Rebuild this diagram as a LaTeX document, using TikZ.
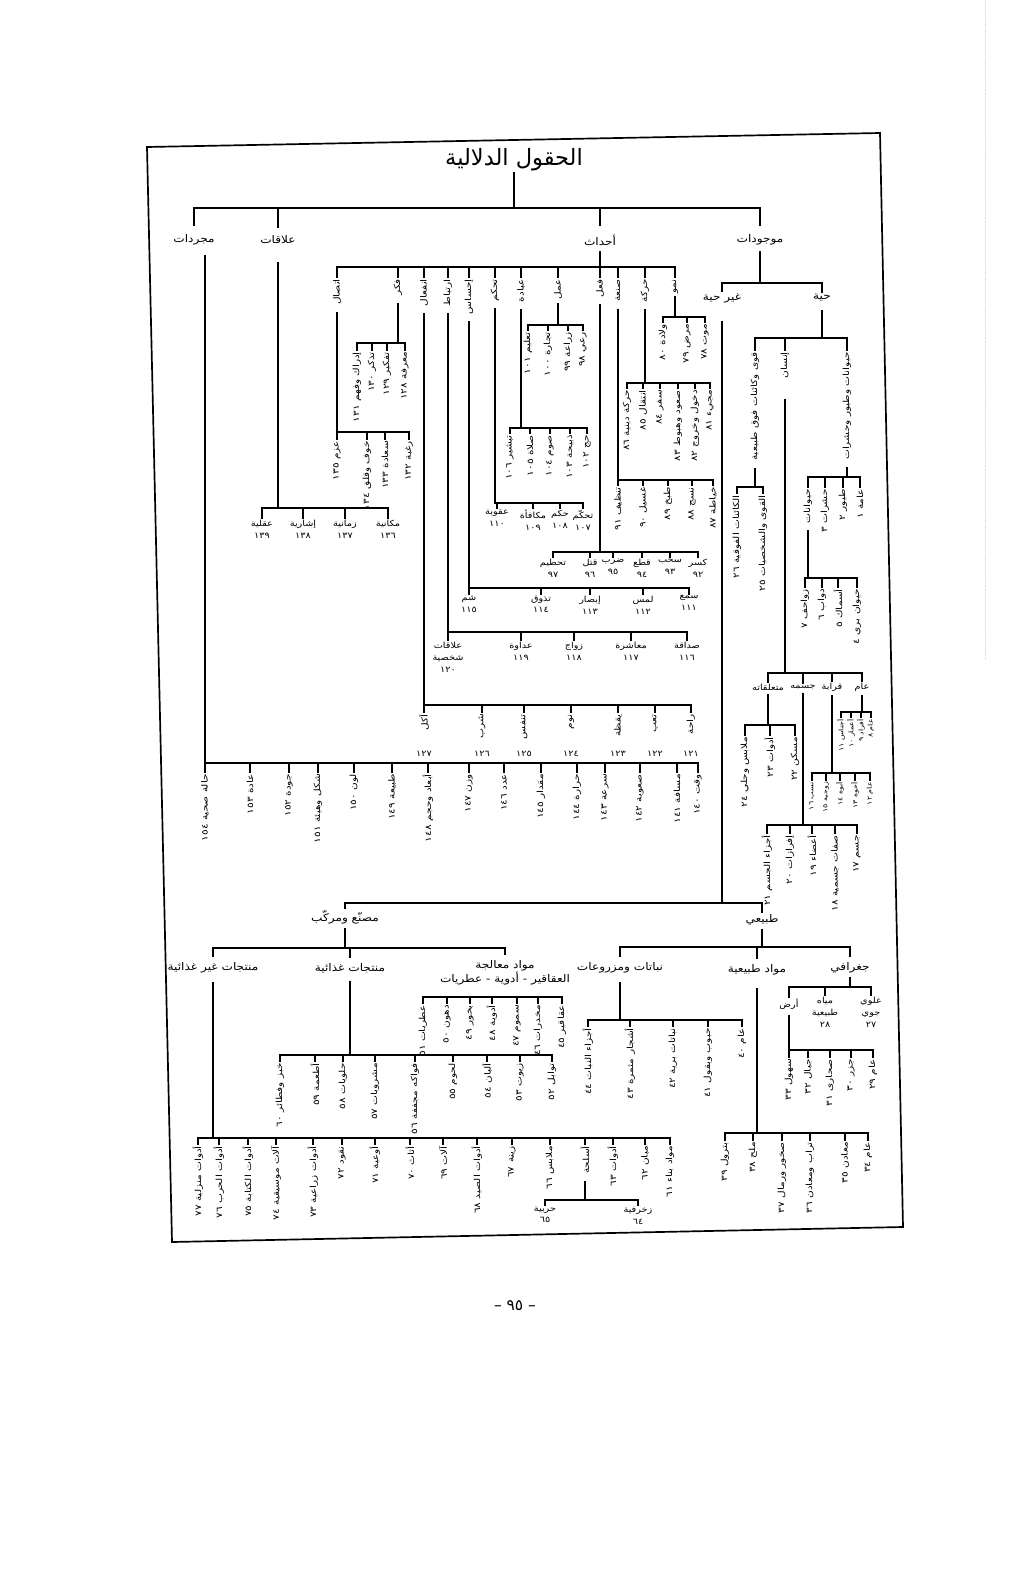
\documentclass[tikz,border=0pt]{standalone}
\usepackage{fontspec}
\newfontfamily\arabicfont[Script=Arabic]{DejaVu Sans}
\TeXXeTstate=1
\newcommand{\artxt}[1]{\beginR #1\endR}
\newcommand{\arnum}[1]{\beginL #1\endL}

\tikzset{
  tree/.style={line width=1.45pt, line cap=rect},
  frame/.style={line width=1.2pt},
  title/.style={font=\arabicfont\fontsize{16}{18}\selectfont, inner sep=1pt},
  head/.style={font=\arabicfont\fontsize{7.5}{9}\selectfont, inner sep=1.5pt, xscale=1.15},
  lab/.style={font=\arabicfont\fontsize{6}{8.5}\selectfont, inner sep=1pt, xscale=1.15, align=center},
  vlab/.style={font=\arabicfont\fontsize{6}{7}\selectfont, inner sep=1pt, rotate=90, xscale=1.25, anchor=east},
  tinyv/.style={vlab, font=\arabicfont\fontsize{4.5}{5}\selectfont},
  pnum/.style={font=\arabicfont\fontsize{11}{13}\selectfont},
}

\begin{document}
\begin{tikzpicture}[x=0.25mm, y=-0.25mm]
  \useasboundingbox (0,0) rectangle (1024,1580);
  \fill[white] (0,0) rectangle (1024,1580);

  % scanned page: frame (slightly skewed), edge shadow, page number
  \draw[frame] (147,147) -- (880,133) -- (903,1227) -- (172,1242) -- cycle;
  \draw[gray!35, densely dotted] (985,0) -- (985,660);
  \node[pnum] (pageno) at (515,1306) {–\ \arnum{٩٥}\ –};

  % root and the four main classes
  \node[title] (root) at (514,160) {\artxt{الحقول الدلالية}};
  \coordinate (rootB) at (0,208);
  \node[head] (mujar)  at (194,240) {\artxt{مجردات}};
  \node[head] (alaqat) at (278,240) {\artxt{علاقات}};
  \node[head] (ahdath) at (600,240) {\artxt{أحداث}};
  \node[head] (mawjud) at (760,240) {\artxt{موجودات}};
  \draw[tree] (root.south) -- (root.south |- rootB);
  \draw[tree] (mujar.north |- rootB) -- (mawjud.north |- rootB);
  \foreach \n in {mujar, alaqat, ahdath, mawjud}
    \draw[tree, shorten >=5pt] (\n.north |- rootB) -- (\n.north);

  % ---------------- mawjudat ----------------
  \coordinate (mawjB) at (0,283);
  \node[head] (ghayr) at (722,298) {\artxt{غير حية}};
  \node[head] (hayya) at (822,298) {\artxt{حية}};
  \draw[tree, shorten <=3pt] (mawjud.south) -- (mawjud.south |- mawjB);
  \draw[tree] (ghayr.north |- mawjB) -- (hayya.north |- mawjB);
  \foreach \n in {ghayr, hayya} \draw[tree] (\n.north |- mawjB) -- (\n.north);

  % living
  \coordinate (hayyaB) at (0,338);
  \node[vlab] (fawq)  at (755,350) {\artxt{قوى وكائنات فوق طبيعية}};
  \node[vlab] (insan) at (785,350) {\artxt{إنسان}};
  \node[vlab] (hayaw) at (847,350) {\artxt{حيوانات وطيور وحشرات}};
  \draw[tree, shorten <=5pt] (hayya.south) -- (hayya.south |- hayyaB);
  \draw[tree] (fawq.east |- hayyaB) -- (hayaw.east |- hayyaB);
  \foreach \n in {fawq, insan, hayaw} \draw[tree] (\n.east |- hayyaB) -- (\n.east);

  % supernatural
  \coordinate (fawqB) at (0,487);
  \foreach \x/\t/\n [count=\i] in {737/الكائنات الفوقية/٢٦, 763/القوى والشخصيات/٢٥} {
    \node[vlab] (fq\i) at (\x,493) {\artxt{\t\ \arnum{\n}}};
    \draw[tree] (fq\i.east) -- (fq\i.east |- fawqB);
  }
  \draw[tree] (fq1.east |- fawqB) -- (fq2.east |- fawqB);
  \draw[tree, shorten <=4pt] (fawq.west) -- (fawq.west |- fawqB);

  % animals, birds, insects
  \coordinate (hayawB) at (0,477);
  \node[vlab] (hayw) at (808,487) {\artxt{حيوانات}};
  \foreach \x/\t/\n [count=\i] in {825/حشرات/٣, 843/طيور/٢, 860/عامة/١} {
    \node[vlab] (hw\i) at (\x,487) {\artxt{\t\ \arnum{\n}}};
    \draw[tree] (hw\i.east) -- (hw\i.east |- hayawB);
  }
  \draw[tree] (hayw.east |- hayawB) -- (hw3.east |- hayawB);
  \draw[tree] (hayw.east) -- (hayw.east |- hayawB);
  \draw[tree, shorten <=4pt] (hayaw.west) -- (hayaw.west |- hayawB);

  \coordinate (haywB) at (0,578);
  \foreach \x/\t/\n [count=\i] in {805/زواحف/٧, 822/دواب/٦, 838/أسماك/٥, 857/حيوان بري/٤} {
    \node[vlab] (hy\i) at (\x,587) {\artxt{\t\ \arnum{\n}}};
    \draw[tree] (hy\i.east) -- (hy\i.east |- haywB);
  }
  \draw[tree] (hy1.east |- haywB) -- (hy4.east |- haywB);
  \draw[tree, shorten <=4pt] (hayw.west) -- (hayw.west |- haywB);

  % man
  \coordinate (insanB) at (0,673);
  \node[lab] (mutaal) at (768,687) {\artxt{متعلقاته}};
  \node[lab] (jism)   at (803,687) {\artxt{جسمه}};
  \node[lab] (qaraba) at (832,687) {\artxt{قرابة}};
  \node[lab] (amm)    at (862,687) {\artxt{عام}};
  \draw[tree, shorten <=14pt] (insan.west) -- (insan.west |- insanB);
  \draw[tree] (mutaal.north |- insanB) -- (amm.north |- insanB);
  \foreach \n in {mutaal, jism, qaraba, amm} \draw[tree] (\n.north |- insanB) -- (\n.north);

  \coordinate (mutaalB) at (0,725);
  \foreach \x/\t/\n [count=\i] in {745/ملابس وحلي/٢٤, 770/أدوات/٢٣, 795/مسكن/٢٢} {
    \node[vlab] (mt\i) at (\x,735) {\artxt{\t\ \arnum{\n}}};
    \draw[tree] (mt\i.east) -- (mt\i.east |- mutaalB);
  }
  \draw[tree] (mt1.east |- mutaalB) -- (mt3.east |- mutaalB);
  \draw[tree, shorten <=2pt] (mutaal.south) -- (mutaal.south |- mutaalB);

  \coordinate (jismB) at (0,825);
  \foreach \x/\t/\n [count=\i] in {767/أجزاء الجسم/٢١, 790/إفرازات/٢٠, 812/أعضاء/١٩, 835/صفات جسمية/١٨, 857/جسم/١٧} {
    \node[vlab] (js\i) at (\x,833) {\artxt{\t\ \arnum{\n}}};
    \draw[tree] (js\i.east) -- (js\i.east |- jismB);
  }
  \draw[tree] (js1.east |- jismB) -- (js5.east |- jismB);
  \draw[tree, shorten <=2pt] (jism.south) -- (jism.south |- jismB);

  \coordinate (qarabaB) at (0,773);
  \foreach \x/\t/\n [count=\i] in {812/نسب/١٦, 826/زوجية/١٥, 840/أبوة/١٤, 855/أخوة/١٣, 870/عام/١٢} {
    \node[tinyv] (qr\i) at (\x,780) {\artxt{\t\ \arnum{\n}}};
    \draw[tree] (qr\i.east) -- (qr\i.east |- qarabaB);
  }
  \draw[tree] (qr1.east |- qarabaB) -- (qr5.east |- qarabaB);
  \draw[tree, shorten <=2pt] (qaraba.south) -- (qaraba.south |- qarabaB);

  \coordinate (ammB) at (0,712);
  \foreach \x/\t/\n [count=\i] in {841/أجناس/١١, 851/أعمار/١٠, 861/أفراد/٩, 871/عام/٨} {
    \node[tinyv] (am\i) at (\x,717) {\artxt{\t\ \arnum{\n}}};
    \draw[tree] (am\i.east) -- (am\i.east |- ammB);
  }
  \draw[tree] (am1.east |- ammB) -- (am4.east |- ammB);
  \draw[tree, shorten <=2pt] (amm.south) -- (amm.south |- ammB);

  % non-living
  \coordinate (ghayrB) at (0,903);
  \node[head] (masnu) at (345,917) {\artxt{مصنّع ومركّب}};
  \node[head] (tabii) at (762,920) {\artxt{طبيعي}};
  \draw[tree, shorten <=12pt] (ghayr.south) -- (ghayr.south |- ghayrB);
  \draw[tree] (masnu.north |- ghayrB) -- (tabii.north |- ghayrB);
  \foreach \n in {masnu, tabii} \draw[tree] (\n.north |- ghayrB) -- (\n.north);

  % natural
  \coordinate (tabiiB) at (0,947);
  \node[head] (nabat)   at (620,968) {\artxt{نباتات ومزروعات}};
  \node[head] (mawad)   at (757,970) {\artxt{مواد طبيعية}};
  \node[head] (jughraf) at (850,968) {\artxt{جغرافي}};
  \draw[tree, shorten <=2pt] (tabii.south) -- (tabii.south |- tabiiB);
  \draw[tree] (nabat.north |- tabiiB) -- (jughraf.north |- tabiiB);
  \foreach \n in {nabat, mawad, jughraf} \draw[tree, shorten >=3pt] (\n.north |- tabiiB) -- (\n.north);

  \coordinate (nabatB) at (0,1020);
  \foreach \x/\t/\n [count=\i] in {588/أجزاء النبات/٤٤, 630/أشجار مثمرة/٤٣, 673/نباتات برية/٤٢, 708/حبوب وبقول/٤١, 742/عام/٤٠} {
    \node[vlab] (nb\i) at (\x,1026) {\artxt{\t\ \arnum{\n}}};
    \draw[tree] (nb\i.east) -- (nb\i.east |- nabatB);
  }
  \draw[tree] (nb1.east |- nabatB) -- (nb5.east |- nabatB);
  \draw[tree, shorten <=5pt] (nabat.south) -- (nabat.south |- nabatB);

  \coordinate (mawadB) at (0,1133);
  \foreach \x/\t/\n [count=\i] in {725/بترول/٣٩, 753/ملح/٣٨, 782/صخور ورمال/٣٧, 810/تراب ومعادن/٣٦, 845/معادن/٣٥, 868/عام/٣٤} {
    \node[vlab] (md\i) at (\x,1140) {\artxt{\t\ \arnum{\n}}};
    \draw[tree] (md\i.east) -- (md\i.east |- mawadB);
  }
  \draw[tree] (md1.east |- mawadB) -- (md6.east |- mawadB);
  \draw[tree, shorten <=8pt] (mawad.south) -- (mawad.south |- mawadB);

  \coordinate (jughrafB) at (0,987);
  \node[lab, anchor=north] (ard)  at (789,997) {\artxt{أرض}};
  \node[lab, anchor=north] (miyah) at (825,995) {\artxt{مياه}\\\artxt{طبيعية}\\\arnum{٢٨}};
  \node[lab, anchor=north] (ulwi) at (871,995) {\artxt{علوي}\\\artxt{جوي}\\\arnum{٢٧}};
  \draw[tree, shorten <=2pt] (jughraf.south) -- (jughraf.south |- jughrafB);
  \draw[tree] (ard.north |- jughrafB) -- (ulwi.north |- jughrafB);
  \foreach \n in {ard, miyah, ulwi} \draw[tree] (\n.north |- jughrafB) -- (\n.north);

  \coordinate (ardB) at (0,1050);
  \foreach \x/\t/\n [count=\i] in {789/سهول/٣٣, 808/جبال/٣٢, 830/صحارى/٣١, 851/جزر/٣٠, 873/عام/٢٩} {
    \node[vlab] (ar\i) at (\x,1057) {\artxt{\t\ \arnum{\n}}};
    \draw[tree] (ar\i.east) -- (ar\i.east |- ardB);
  }
  \draw[tree] (ar1.east |- ardB) -- (ar5.east |- ardB);
  \draw[tree, shorten <=4pt] (ard.south) -- (ard.south |- ardB);

  % made and compound
  \coordinate (masnuB) at (0,948);
  \node[head] (ghgh)  at (213,968) {\artxt{منتجات غير غذائية}};
  \node[head] (ghidh) at (350,968) {\artxt{منتجات غذائية}};
  \node[head, align=center, anchor=north] (muala) at (505,958) {\artxt{مواد معالجة}\\\artxt{العقاقير - أدوية - عطريات}};
  \draw[tree, shorten <=2pt] (masnu.south) -- (masnu.south |- masnuB);
  \draw[tree] (ghgh.north |- masnuB) -- (muala.north |- masnuB);
  \foreach \n in {ghgh, ghidh, muala} \draw[tree, shorten >=3pt] (\n.north |- masnuB) -- (\n.north);

  \coordinate (mualaB) at (0,997);
  \foreach \x/\t/\n [count=\i] in {423/عطريات/٥١, 447/دهون/٥٠, 470/بخور/٤٩, 492/أدوية/٤٨, 517/سموم/٤٧, 538/مخدرات/٤٦, 562/عقاقير/٤٥} {
    \node[vlab] (ml\i) at (\x,1003) {\artxt{\t\ \arnum{\n}}};
    \draw[tree] (ml\i.east) -- (ml\i.east |- mualaB);
  }
  \draw[tree] (ml1.east |- mualaB) -- (ml7.east |- mualaB);

  \coordinate (ghidhB) at (0,1055);
  \foreach \x/\t/\n [count=\i] in {280/خبز وفطائر/٦٠, 315/أطعمة/٥٩, 343/حلويات/٥٨, 375/مشروبات/٥٧, 415/فواكه مجففة/٥٦, 453/لحوم/٥٥, 487/ألبان/٥٤, 520/زيوت/٥٣, 552/توابل/٥٢} {
    \node[vlab] (gd\i) at (\x,1061) {\artxt{\t\ \arnum{\n}}};
    \draw[tree] (gd\i.east) -- (gd\i.east |- ghidhB);
  }
  \draw[tree] (gd1.east |- ghidhB) -- (gd9.east |- ghidhB);
  \draw[tree, shorten <=5pt] (ghidh.south) -- (ghidh.south |- ghidhB);

  \coordinate (ghghB) at (0,1138);
  \foreach \x/\t/\n [count=\i] in {198/أدوات منزلية/٧٧, 219/أدوات الحرب/٧٦, 248/أدوات الكتابة/٧٥, 276/آلات موسيقية/٧٤, 313/أدوات زراعية/٧٣, 342/نقود/٧٢, 375/أوعية/٧١, 410/أثاث/٧٠, 443/آلات/٦٩, 477/أدوات الصيد/٦٨, 512/زينة/٦٧, 550/ملابس/٦٦, 585/أسلحة/, 613/أدوات/٦٣, 645/مبان/٦٢, 670/مواد بناء/٦١} {
    \node[vlab] (gg\i) at (\x,1144) {\artxt{\t\ \arnum{\n}}};
    \draw[tree] (gg\i.east) -- (gg\i.east |- ghghB);
  }
  \draw[tree] (gg1.east |- ghghB) -- (gg16.east |- ghghB);
  \draw[tree, shorten <=5pt] (ghgh.south) -- (ghgh.south |- ghghB);

  \coordinate (silahB) at (0,1200);
  \node[lab, anchor=north] (harb)    at (545,1205) {\artxt{حربية}\\\arnum{٦٥}};
  \node[lab, anchor=north] (zukhruf) at (638,1205) {\artxt{زخرفية}\\\arnum{٦٤}};
  \draw[tree] (harb.north |- silahB) -- (zukhruf.north |- silahB);
  \foreach \n in {harb, zukhruf} \draw[tree] (\n.north |- silahB) -- (\n.north);
  \draw[tree, shorten <=2pt] (gg13.west) -- (gg13.west |- silahB);

  % ---------------- ahdath ----------------
  \coordinate (ahdB) at (0,267);
  \draw[tree, shorten <=3pt] (ahdath.south) -- (ahdath.south |- ahdB);
  \foreach \x/\t/\n in {337/اتصال/itt, 398/فكر/fikr, 424/انفعال/infi, 448/ارتباط/irtb, 469/إحساس/ihss, 495/تحكم/tahk, 521/عبادة/ibad, 558/عمل/amal, 600/فعل/fial, 618/صنعة/sana, 645/حركة/haraka, 675/نمو/numu} {
    \node[vlab] (\n) at (\x,277) {\artxt{\t}};
    \draw[tree] (\n.east) -- (\n.east |- ahdB);
  }
  \draw[tree] (itt.east |- ahdB) -- (numu.east |- ahdB);

  \coordinate (ittB) at (0,432);
  \foreach \x/\t/\n [count=\i] in {337/عزم/١٣٥, 367/خوف وقلق/١٣٤, 385/سعادة/١٣٣, 409/رغبة/١٣٢} {
    \node[vlab] (it\i) at (\x,439) {\artxt{\t\ \arnum{\n}}};
    \draw[tree] (it\i.east) -- (it\i.east |- ittB);
  }
  \draw[tree] (it1.east |- ittB) -- (it4.east |- ittB);
  \draw[tree, shorten <=4pt] (itt.west) -- (itt.west |- ittB);

  \coordinate (fikrB) at (0,343);
  \foreach \x/\t/\n [count=\i] in {357/إدراك وفهم/١٣١, 372/تذكر/١٣٠, 387/تفكير/١٢٩, 405/معرفة/١٢٨} {
    \node[vlab] (fk\i) at (\x,350) {\artxt{\t\ \arnum{\n}}};
    \draw[tree] (fk\i.east) -- (fk\i.east |- fikrB);
  }
  \draw[tree] (fk1.east |- fikrB) -- (fk4.east |- fikrB);
  \draw[tree, shorten <=4pt] (fikr.west) -- (fikr.west |- fikrB);

  \coordinate (infiB) at (0,705);
  \foreach \x/\t/\n [count=\i] in {424/أكل/١٢٧, 482/شرب/١٢٦, 524/تنفس/١٢٥, 571/نوم/١٢٤, 618/يقظة/١٢٣, 655/تعب/١٢٢, 691/راحة/١٢١} {
    \node[vlab] (inf\i) at (\x,712) {\artxt{\t}};
    \node[lab] (infn\i) at (\x,754) {\arnum{\n}};
    \draw[tree] (inf\i.east) -- (inf\i.east |- infiB);
  }
  \draw[tree] (inf1.east |- infiB) -- (inf7.east |- infiB);
  \draw[tree, shorten <=4pt] (infi.west) -- (infi.west |- infiB);

  \coordinate (irtbB) at (0,632);
  \node[lab, anchor=north] (ir1) at (448,640) {\artxt{علاقات}\\\artxt{شخصية}\\\arnum{١٢٠}};
  \foreach \x/\t/\n [count=\i from 2] in {521/عداوة/١١٩, 574/زواج/١١٨, 631/معاشرة/١١٧, 687/صداقة/١١٦}
    \node[lab, anchor=north] (ir\i) at (\x,640) {\artxt{\t}\\\arnum{\n}};
  \foreach \i in {1,...,5} \draw[tree] (ir\i.north) -- (ir\i.north |- irtbB);
  \draw[tree] (ir1.north |- irtbB) -- (ir5.north |- irtbB);
  \draw[tree, shorten <=4pt] (irtb.west) -- (irtb.west |- irtbB);

  \coordinate (ihssB) at (0,588);
  \foreach \x/\t/\n [count=\i] in {469/شم/١١٥, 541/تذوق/١١٤, 590/إبصار/١١٣, 643/لمس/١١٢, 689/سمع/١١١} {
    \node[lab, anchor=north] (ih\i) at (\x,594) {\artxt{\t}\\\arnum{\n}};
    \draw[tree] (ih\i.north) -- (ih\i.north |- ihssB);
  }
  \draw[tree] (ih1.north |- ihssB) -- (ih5.north |- ihssB);
  \draw[tree, shorten <=4pt] (ihss.west) -- (ihss.west |- ihssB);

  \coordinate (tahkB) at (0,503);
  \foreach \x/\t/\n [count=\i] in {497/عقوبة/١١٠, 533/مكافأة/١٠٩, 560/حكم/١٠٨, 583/تحكّم/١٠٧} {
    \node[lab, anchor=north] (th\i) at (\x,508) {\artxt{\t}\\\arnum{\n}};
    \draw[tree] (th\i.north) -- (th\i.north |- tahkB);
  }
  \draw[tree] (th1.north |- tahkB) -- (th4.north |- tahkB);
  \draw[tree, shorten <=4pt] (tahk.west) -- (tahk.west |- tahkB);

  \coordinate (ibadB) at (0,428);
  \foreach \x/\t/\n [count=\i] in {510/تبشير/١٠٦, 530/صلاة/١٠٥, 550/صوم/١٠٤, 570/ذبيحة/١٠٣, 587/حج/١٠٢} {
    \node[vlab] (ib\i) at (\x,433) {\artxt{\t\ \arnum{\n}}};
    \draw[tree] (ib\i.east) -- (ib\i.east |- ibadB);
  }
  \draw[tree] (ib1.east |- ibadB) -- (ib5.east |- ibadB);
  \draw[tree, shorten <=4pt] (ibad.west) -- (ibad.west |- ibadB);

  \coordinate (amalB) at (0,325);
  \foreach \x/\t/\n [count=\i] in {528/تعليم/١٠١, 548/تجارة/١٠٠, 568/زراعة/٩٩, 583/رعي/٩٨} {
    \node[vlab] (ma\i) at (\x,330) {\artxt{\t\ \arnum{\n}}};
    \draw[tree] (ma\i.east) -- (ma\i.east |- amalB);
  }
  \draw[tree] (ma1.east |- amalB) -- (ma4.east |- amalB);
  \draw[tree, shorten <=2pt] (amal.west) -- (amal.west |- amalB);

  \coordinate (fialB) at (0,552);
  \foreach \x/\t/\n [count=\i] in {553/تحطيم/٩٧, 590/قتل/٩٦, 613/ضرب/٩٥, 642/قطع/٩٤, 670/سحب/٩٣, 698/كسر/٩٢} {
    \node[lab, anchor=north] (fl\i) at (\x,557) {\artxt{\t}\\\arnum{\n}};
    \draw[tree] (fl\i.north) -- (fl\i.north |- fialB);
  }
  \draw[tree] (fl1.north |- fialB) -- (fl6.north |- fialB);
  \draw[tree, shorten <=4pt] (fial.west) -- (fial.west |- fialB);

  \coordinate (sanaB) at (0,480);
  \foreach \x/\t/\n [count=\i] in {618/تنظيف/٩١, 643/غسيل/٩٠, 668/طبخ/٨٩, 692/نسج/٨٨, 713/خياطة/٨٧} {
    \node[vlab] (sn\i) at (\x,485) {\artxt{\t\ \arnum{\n}}};
    \draw[tree] (sn\i.east) -- (sn\i.east |- sanaB);
  }
  \draw[tree] (sn1.east |- sanaB) -- (sn5.east |- sanaB);
  \draw[tree, shorten <=4pt] (sana.west) -- (sana.west |- sanaB);

  \coordinate (harakaB) at (0,383);
  \foreach \x/\t/\n [count=\i] in {627/حركة دينية/٨٦, 643/انتقال/٨٥, 660/سفر/٨٤, 678/صعود وهبوط/٨٣, 695/دخول وخروج/٨٢, 710/مجيء/٨١} {
    \node[vlab] (hr\i) at (\x,388) {\artxt{\t\ \arnum{\n}}};
    \draw[tree] (hr\i.east) -- (hr\i.east |- harakaB);
  }
  \draw[tree] (hr1.east |- harakaB) -- (hr6.east |- harakaB);
  \draw[tree, shorten <=4pt] (haraka.west) -- (haraka.west |- harakaB);

  \coordinate (numuB) at (0,317);
  \foreach \x/\t/\n [count=\i] in {663/ولادة/٨٠, 687/مرض/٧٩, 705/موت/٧٨} {
    \node[vlab] (nm\i) at (\x,322) {\artxt{\t\ \arnum{\n}}};
    \draw[tree] (nm\i.east) -- (nm\i.east |- numuB);
  }
  \draw[tree] (nm1.east |- numuB) -- (nm3.east |- numuB);
  \draw[tree, shorten <=1pt] (numu.west) -- (numu.west |- numuB);

  % ---------------- alaqat ----------------
  \coordinate (alaqB) at (0,508);
  \foreach \x/\t/\n [count=\i] in {262/عقلية/١٣٩, 303/إشارية/١٣٨, 345/زمانية/١٣٧, 388/مكانية/١٣٦} {
    \node[lab, anchor=north] (al\i) at (\x,518) {\artxt{\t}\\\arnum{\n}};
    \draw[tree] (al\i.north) -- (al\i.north |- alaqB);
  }
  \draw[tree] (al1.north |- alaqB) -- (al4.north |- alaqB);
  \draw[tree, shorten <=12pt] (alaqat.south) -- (alaqat.south |- alaqB);

  % ---------------- mujarradat ----------------
  \coordinate (mujS) at (205,256);
  \coordinate (mujB) at (0,763);
  \draw[tree] (mujS) -- (mujS |- mujB);
  \foreach \x/\t/\n [count=\i] in {205/حالة صحية/١٥٤, 250/عادة/١٥٣, 289/جودة/١٥٢, 318/شكل وهيئة/١٥١, 354/لون/١٥٠, 392/طبيعة/١٤٩, 428/أبعاد وحجم/١٤٨, 469/وزن/١٤٧, 504/عدد/١٤٦, 541/مقدار/١٤٥, 577/حرارة/١٤٤, 605/سرعة/١٤٣, 640/صعوبة/١٤٢, 677/مسافة/١٤١, 698/وقت/١٤٠} {
    \node[vlab] (mj\i) at (\x,772) {\artxt{\t\ \arnum{\n}}};
    \draw[tree] (mj\i.east) -- (mj\i.east |- mujB);
  }
  \draw[tree] (mj1.east |- mujB) -- (mj15.east |- mujB);
\end{tikzpicture}
\end{document}
